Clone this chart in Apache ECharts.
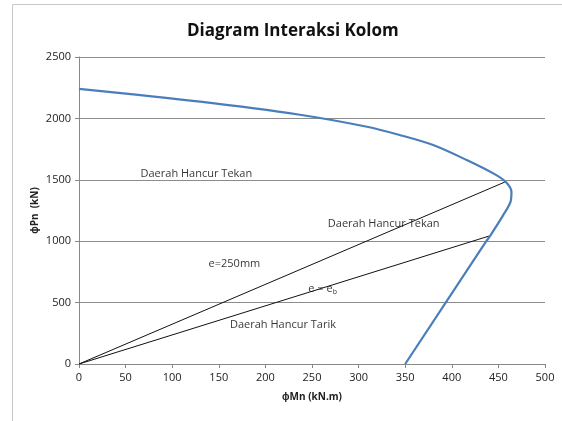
<!DOCTYPE html>
<html>
<head>
<meta charset="utf-8">
<script src="https://cdn.jsdelivr.net/npm/echarts@6/dist/echarts.min.js"></script>
<style>
html, body { margin: 0; padding: 0; background: #fff; }
#main { width: 562px; height: 421px; }
</style>
</head>
<body>
<div id="main"></div>
<script>
// kurva interaksi (phiMn, phiPn)
var kurvaMn = [0, 130, 237, 309, 344, 380, 416, 445, 458, 464, 463, 455, 441, 437, 350];
var kurvaPn = [2240, 2136, 2030, 1932, 1865, 1783, 1661, 1550, 1482, 1400, 1320, 1210, 1042, 1000, 0];
// garis eksentrisitas
var garis250 = [[0, 0], [457, 1482]];
var garisEb = [[0, 0], [440, 1042]];
// label daerah
var labelTeks = ['Daerah Hancur Tekan', 'Daerah Hancur Tekan', 'e=250mm', '{n|e = e}{s|b}', 'Daerah Hancur Tarik'];
var labelPos = [[66, 1547], [267, 1145], [139, 814], [246, 611], [162, 318]];

var myChart = echarts.init(document.getElementById('main'));
var fontUtama = 'Open Sans, Liberation Sans, sans-serif';

var kurva = kurvaMn.map(function (m, i) { return [m, kurvaPn[i]]; });
var labels = labelPos.map(function (p, i) {
	return { value: p, label: { formatter: labelTeks[i] } };
});

option = {
	animation: false,
	backgroundColor: '#fff',
	title: {
		text: 'Diagram Interaksi Kolom',
		left: 182,
		top: 18,
		textStyle: { fontFamily: fontUtama, fontSize: 17, fontWeight: 'bold', color: '#111' }
	},
	grid: { left: 79, right: 17, top: 57, bottom: 57 },
	xAxis: {
		type: 'value',
		min: 0, max: 500, interval: 50,
		name: 'ϕMn (kN.m)',
		nameLocation: 'middle',
		nameGap: 28,
		nameTextStyle: { fontFamily: fontUtama, fontSize: 10, fontWeight: 'bold', color: '#222' },
		axisLine: { lineStyle: { color: '#888' } },
		axisTick: { show: true, length: 4, lineStyle: { color: '#888' } },
		axisLabel: { fontFamily: fontUtama, fontSize: 11, color: '#222', margin: 8 },
		splitLine: { show: false }
	},
	yAxis: {
		type: 'value',
		min: 0, max: 2500, interval: 500,
		name: 'ϕPn  (kN)',
		nameLocation: 'middle',
		nameGap: 39,
		nameMoveOverlap: false,
		nameTextStyle: { fontFamily: fontUtama, fontSize: 10, fontWeight: 'bold', color: '#222' },
		axisLine: { show: true, lineStyle: { color: '#888' } },
		axisTick: { show: true, length: 4, lineStyle: { color: '#888' } },
		axisLabel: {
			fontFamily: fontUtama, fontSize: 11, color: '#222', margin: 8,
			formatter: function (v) { return String(v); }
		},
		splitLine: { show: true, lineStyle: { color: '#8c8c8c', width: 1 } }
	},
	graphic: [{
		type: 'rect',
		shape: { x: 12.5, y: 4.5, width: 600, height: 500 },
		style: { fill: null, stroke: '#c8c8c8', lineWidth: 1 },
		silent: true
	}],
	series: [
		{
			name: 'e=250mm',
			type: 'line',
			data: garis250,
			symbol: 'none',
			lineStyle: { color: '#111', width: 1 }
		},
		{
			name: 'e=eb',
			type: 'line',
			data: garisEb,
			symbol: 'none',
			lineStyle: { color: '#111', width: 1 }
		},
		{
			name: 'Kurva',
			type: 'line',
			data: kurva,
			symbol: 'none',
			smooth: 0.3,
			lineStyle: { color: '#4a7ebb', width: 2.2 }
		},
		{
			name: 'Label',
			type: 'scatter',
			data: labels,
			symbolSize: 0,
			label: {
				show: true,
				position: 'right',
				distance: 0,
				fontFamily: fontUtama,
				fontSize: 11,
				color: '#000',
				rich: {
					n: { fontFamily: fontUtama, fontSize: 11, color: '#000' },
					s: { fontFamily: fontUtama, fontSize: 7, color: '#000', padding: [6, 0, 0, 0] }
				}
			}
		}
	]
};
myChart.setOption(option);
</script>
</body>
</html>
